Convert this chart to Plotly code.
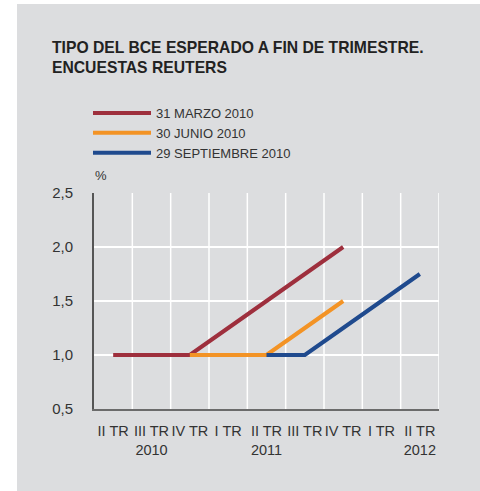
import plotly.graph_objects as go

quarters = ["II TR", "III TR", "IV TR", "I TR", "II TR", "III TR", "IV TR", "I TR", "II TR"]
years = ["", "2010", "", "", "2011", "", "", "", "2012"]
series_names = ["31 MARZO 2010", "30 JUNIO 2010", "29 SEPTIEMBRE 2010"]
marzo = [1.0, 1.0, 1.0, 1.25, 1.5, 1.75, 2.0, None, None]
junio = [None, None, 1.0, 1.0, 1.0, 1.25, 1.5, None, None]
septiembre = [None, None, None, None, 1.0, 1.0, 1.25, 1.5, 1.75]
colors = ["#9e2f3d", "#f39325", "#1f4a8e"]

W, H = 480, 491
L, R, T, B = 94, 41, 193, 82
pw, ph = W - L - R, H - T - B

def px(xp):
    return (xp - L) / pw

def py(yp):
    return (H - B - yp) / ph

x = list(range(len(quarters)))
ticktext = [q + ("<br>" + y if y else "") for q, y in zip(quarters, years)]

fig = go.Figure()
for name, vals, c in zip(series_names, [marzo, junio, septiembre], colors):
    fig.add_trace(go.Scatter(x=x, y=vals, name=name, mode="lines",
                             line=dict(color=c, width=4), connectgaps=False))

font = "Liberation Sans, Arial, sans-serif"
fig.update_layout(
    width=W, height=H,
    margin=dict(l=L, r=R, t=T, b=B, pad=0),
    paper_bgcolor="white",
    plot_bgcolor="rgba(0,0,0,0)",
    separators=",.",
    font=dict(family=font, color="#333333"),
    title=dict(text="<b>TIPO DEL BCE ESPERADO A FIN DE TRIMESTRE.<br>ENCUESTAS REUTERS</b>",
               x=52 / W, xanchor="left", xref="container",
               y=1 - 53 / H, yanchor="top", yref="container",
               font=dict(size=15.7, color="#222222", family=font)),
    showlegend=True,
    legend=dict(x=px(88), y=py(98), xanchor="left", yanchor="top",
                bgcolor="rgba(0,0,0,0)", font=dict(size=13, color="#333333"),
                itemwidth=58),
    shapes=[dict(type="rect", xref="paper", yref="paper",
                 x0=px(17), x1=px(W + 5), y0=py(H + 5), y1=py(4),
                 fillcolor="#dcdddf", line=dict(width=0), layer="below")],
    annotations=[dict(text="%", xref="paper", yref="paper", x=px(93), y=py(175),
                      xanchor="left", yanchor="middle", showarrow=False,
                      font=dict(size=13, color="#333333"))],
)
fig.update_xaxes(range=[-0.5, 8.5], tickmode="array", tickvals=x, ticktext=ticktext,
                 showgrid=False, zeroline=False, showline=True, linecolor="#6b6b6b",
                 linewidth=1.5, ticks="outside", ticklen=8, tickcolor="rgba(0,0,0,0)",
                 tickangle=0,
                 tickfont=dict(size=14.5, color="#333333", family=font))
for i in range(1, 10):
    fig.add_shape(type="line", xref="x", yref="paper", x0=i - 0.5, x1=i - 0.5, y0=0, y1=1,
                  line=dict(color="white", width=1.5), layer="below")
fig.update_yaxes(range=[0.5, 2.5], tickvals=[0.5, 1.0, 1.5, 2.0, 2.5],
                 tickformat=".1f", showgrid=True, gridcolor="white", gridwidth=1.5,
                 zeroline=False, showline=True, linecolor="#555555", linewidth=2,
                 ticks="outside", ticklen=16, tickcolor="rgba(0,0,0,0)",
                 tickfont=dict(size=15, color="#333333", family=font))
fig.write_html("out.html", config={"displayModeBar": False},
               post_script="document.body.style.margin='0';document.body.style.padding='0';")
